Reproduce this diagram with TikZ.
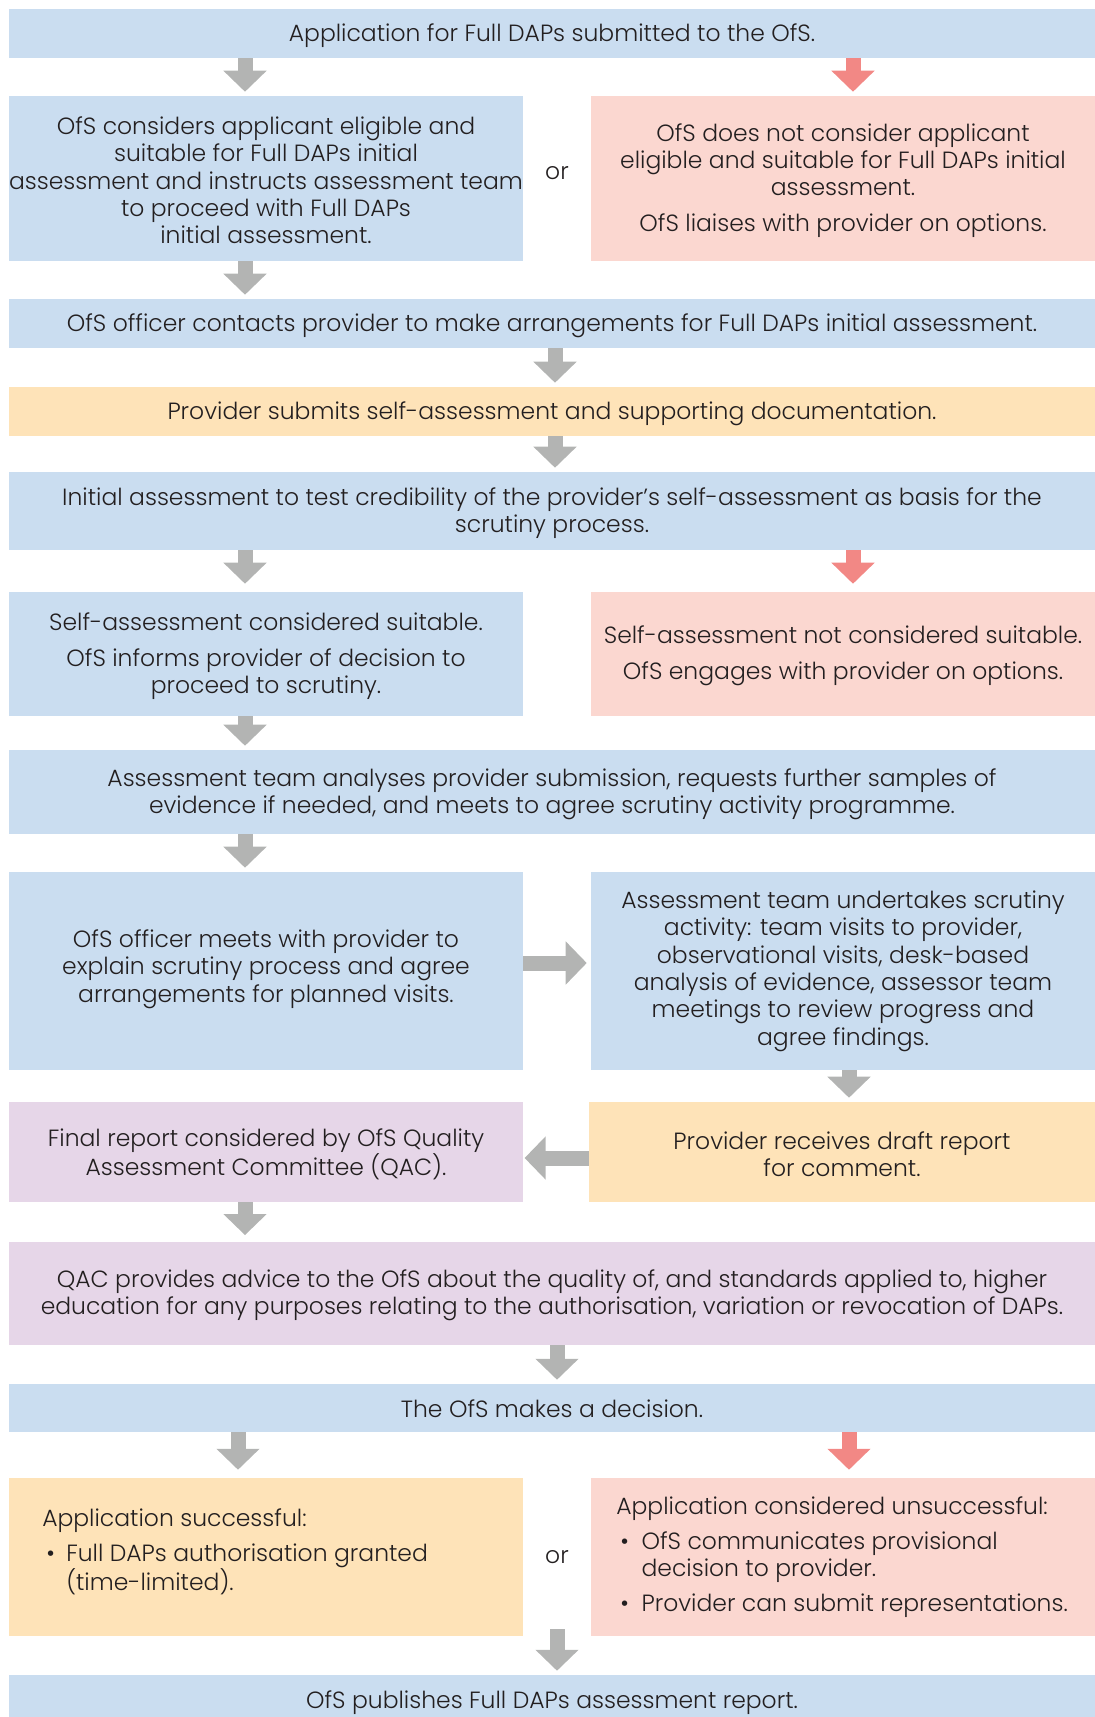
\documentclass[tikz,border=0pt]{standalone}
\usepackage{fontspec}
\setmainfont{Poppins}[UprightFont=* Light]
\usetikzlibrary{fit,arrows.meta}
\definecolor{cblue}{RGB}{202,221,240}
\definecolor{cpink}{RGB}{251,215,208}
\definecolor{corange}{RGB}{254,227,184}
\definecolor{cpurple}{RGB}{230,214,232}
\definecolor{cgray}{RGB}{179,180,179}
\definecolor{cred}{RGB}{242,136,133}
\definecolor{ctext}{RGB}{35,31,32}
\newcommand\mainfs{\fontsize{17.6}{20.5}\selectfont}
\tikzset{
  panel/.style={fit={#1}, inner sep=0pt},
  txt/.style={inner sep=0pt, align=center, font=\mainfs, text=ctext, yshift=-1.5pt},
  plain/.style={inner sep=0pt, font=\mainfs, text=ctext},
  garrow/.style={draw=cgray, line width=11.25pt, -{Triangle[width=31.5pt,length=15.75pt]}, shorten >=3pt},
  rarrow/.style={garrow, draw=cred},
}
\begin{document}
\begin{tikzpicture}[x=0.75pt,y=-0.75pt]
\useasboundingbox (0,0) rectangle (1095,1717);
% boxes
\node[panel={(9,9) (1095,58)}, fill=cblue] (b1) {};
\node[panel={(9,96) (523,261)}, fill=cblue] (b2l) {};
\node[panel={(591,96) (1095,261)}, fill=cpink] (b2r) {};
\node[panel={(9,299) (1095,348)}, fill=cblue] (b3) {};
\node[panel={(9,387) (1095,436)}, fill=corange] (b4) {};
\node[panel={(9,472) (1095,550)}, fill=cblue] (b5) {};
\node[panel={(9,592) (523,716)}, fill=cblue] (b6l) {};
\node[panel={(591,592) (1095,716)}, fill=cpink] (b6r) {};
\node[panel={(9,750) (1095,834)}, fill=cblue] (b7) {};
\node[panel={(9,872) (523,1070)}, fill=cblue] (b8l) {};
\node[panel={(591,872) (1095,1070)}, fill=cblue] (b8r) {};
\node[panel={(9,1102) (523,1202)}, fill=cpurple] (b9l) {};
\node[panel={(589,1102) (1095,1202)}, fill=corange] (b9r) {};
\node[panel={(9,1242) (1095,1345)}, fill=cpurple] (b10) {};
\node[panel={(9,1384) (1095,1432)}, fill=cblue] (b11) {};
\node[panel={(9,1478) (523,1636)}, fill=corange] (b12l) {};
\node[panel={(591,1478) (1095,1636)}, fill=cpink] (b12r) {};
\node[panel={(9,1675) (1095,1717)}, fill=cblue] (b13) {};
% texts
\node[txt] (t1) at (b1.center) {Application for Full DAPs submitted to the OfS.};
\node[txt] (t2l) at (b2l.center) {OfS considers applicant eligible and\\suitable for Full DAPs initial\\assessment and instructs assessment team\\to proceed with Full DAPs\\initial assessment.};
\node[txt] (t2r) at (b2r.center) {OfS does not consider applicant\\eligible and suitable for Full DAPs initial\\assessment.\\[6.5pt]OfS liaises with provider on options.};
\node[plain] (or1) at (557,173) {or};
\node[txt] (t3) at (b3.center) {OfS officer contacts provider to make arrangements for Full DAPs initial assessment.};
\node[txt] (t4) at (b4.center) {Provider submits self-assessment and supporting documentation.};
\node[txt] (t5) at (b5.center) {Initial assessment to test credibility of the provider’s self-assessment as basis for the\\scrutiny process.};
\node[txt] (t6l) at (b6l.center) {Self-assessment considered suitable.\\[6.5pt]OfS informs provider of decision to\\proceed to scrutiny.};
\node[txt] (t6r) at (b6r.center) {Self-assessment not considered suitable.\\[6.5pt]OfS engages with provider on options.};
\node[txt] (t7) at (b7.center) {Assessment team analyses provider submission, requests further samples of\\evidence if needed, and meets to agree scrutiny activity programme.};
\node[txt, yshift=3pt] (t8l) at (b8l.center) {OfS officer meets with provider to\\explain scrutiny process and agree\\arrangements for planned visits.};
\node[txt, yshift=1.5pt] (t8r) at (b8r.center) {Assessment team undertakes scrutiny\\activity: team visits to provider,\\observational visits, desk-based\\analysis of evidence, assessor team\\meetings to review progress and\\agree findings.};
\node[txt] (t9l) at (b9l.center) {Final report considered by OfS Quality\\Assessment Committee (QAC).};
\node[txt] (t9r) at (b9r.center) {Provider receives draft report\\for comment.};
\node[txt] (t10) at (b10.center) {QAC provides advice to the OfS about the quality of, and standards applied to, higher\\education for any purposes relating to the authorisation, variation or revocation of DAPs.};
\node[txt, yshift=1pt] (t11) at (b11.center) {The OfS makes a decision.};
\node[plain, anchor=north west, align=left] (t12l) at (42,1508) {Application successful:\\[5.8pt]\makebox[18pt][l]{\hspace{3pt}\textbullet}Full DAPs authorisation granted\\\hspace*{18pt}(time-limited).};
\node[plain, anchor=north west, align=left] (t12r) at (616,1496) {Application considered unsuccessful:\\[5.8pt]\makebox[19pt][l]{\hspace{3pt}\textbullet}OfS communicates provisional\\\hspace*{19pt}decision to provider.\\[5.8pt]\makebox[19pt][l]{\hspace{3pt}\textbullet}Provider can submit representations.};
\node[plain] (or2) at (557,1557) {or};
\node[txt, yshift=-3.3pt] (t13) at (b13.center) {OfS publishes Full DAPs assessment report.};
% arrows
\draw[garrow] (b1.south -| 245,0) -- (b2l.north -| 245,0);
\draw[rarrow] (b1.south -| 853,0) -- (b2r.north -| 853,0);
\draw[garrow] (b2l.south -| 245,0) -- (b3.north -| 245,0);
\draw[garrow] (b3.south -| 555,0) -- (b4.north -| 555,0);
\draw[garrow] (b4.south -| 555,0) -- (b5.north -| 555,0);
\draw[garrow, shorten >=6pt] (b5.south -| 245,0) -- (b6l.north -| 245,0);
\draw[rarrow, shorten >=6pt] (b5.south -| 853,0) -- (b6r.north -| 853,0);
\draw[garrow] (b6l.south -| 245,0) -- (b7.north -| 245,0);
\draw[garrow] (b7.south -| 245,0) -- (b8l.north -| 245,0);
\draw[garrow] (b8l.east |- 0,963) -- (b8r.west |- 0,963);
\draw[garrow] (b8r.south -| 849,0) -- (b9r.north -| 849,0);
\draw[garrow, shorten >=1pt] (b9r.west |- 0,1158) -- (b9l.east |- 0,1158);
\draw[garrow, shorten >=5pt] (b9l.south -| 245,0) -- (b10.north -| 245,0);
\draw[garrow] (b10.south -| 557,0) -- (b11.north -| 557,0);
\draw[garrow, shorten >=6pt] (b11.south -| 238,0) -- (b12l.north -| 238,0);
\draw[rarrow, shorten >=6pt] (b11.south -| 849,0) -- (b12r.north -| 849,0);
\coordinate (c15) at (557,1629);
\draw[garrow] (c15) -- (b13.north -| c15);
\end{tikzpicture}
\end{document}
